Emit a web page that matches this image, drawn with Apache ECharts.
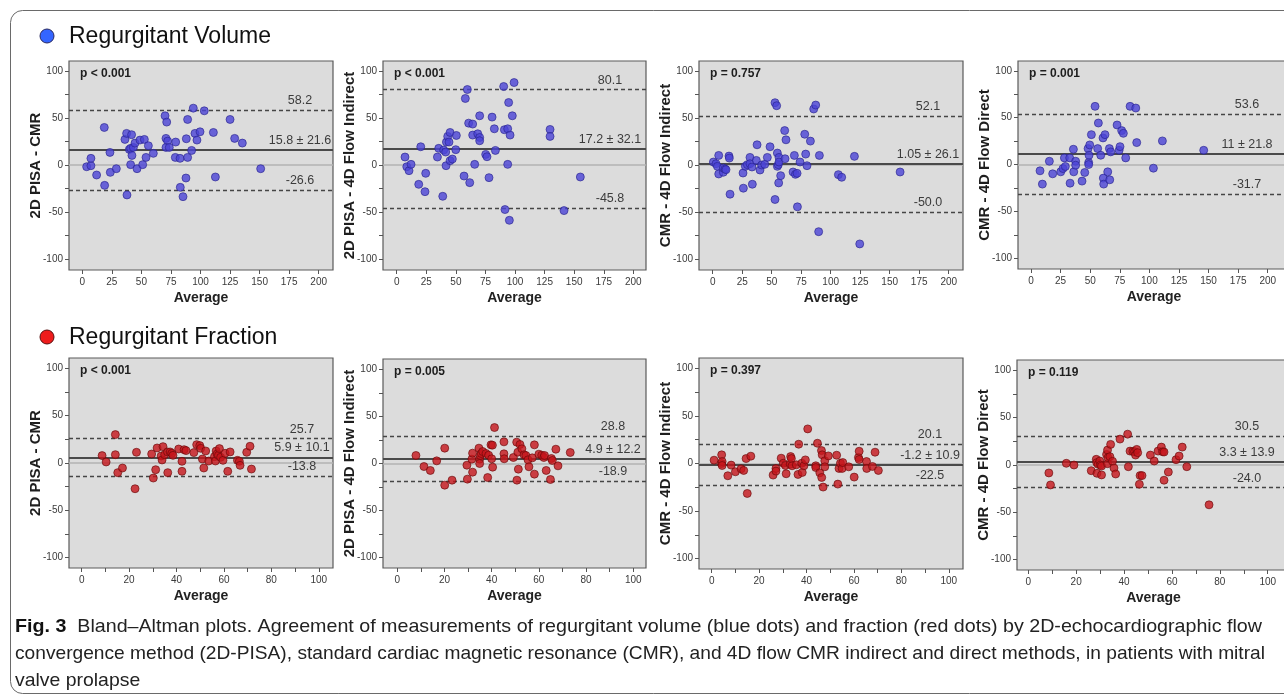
<!DOCTYPE html>
<html><head><meta charset="utf-8">
<script src="https://cdn.jsdelivr.net/npm/echarts@6/dist/echarts.min.js"></script>
<style>html,body{margin:0;padding:0;background:#fff}#c{width:1284px;height:697px}</style>
</head><body><div id="c"></div>
<script>
// ---------- DATA ----------
const volXTicks = [0, 25, 50, 75, 100, 125, 150, 175, 200];
const fracXTicks = [0, 20, 40, 60, 80, 100];
const fracXMinorTicks = [0, 10, 20, 30, 40, 50, 60, 70, 80, 90, 100];
const yLabelTicks = [-100, -50, 0, 50, 100];
const yMinorTicks = [-100, -75, -50, -25, 0, 25, 50, 75, 100];

const sectionTitles = ['Regurgitant Volume', 'Regurgitant Fraction'];
const yAxisNames = ['2D PISA - CMR', '2D PISA - 4D Flow Indirect', 'CMR - 4D Flow Indirect', 'CMR - 4D Flow Direct',
                    '2D PISA - CMR', '2D PISA - 4D Flow Indirect', 'CMR - 4D Flow Indirect', 'CMR - 4D Flow Direct'];
const xAxisName = 'Average';
const pValues = ['p < 0.001', 'p < 0.001', 'p = 0.757', 'p = 0.001', 'p < 0.001', 'p = 0.005', 'p = 0.397', 'p = 0.119'];
const meanBias = [15.8, 17.2, 1.05, 11, 5.9, 4.9, -1.2, 3.3];
const meanLabels = ['15.8 ± 21.6', '17.2 ± 32.1', '1.05 ± 26.1', '11 ± 21.8', '5.9 ± 10.1', '4.9 ± 12.2', '-1.2 ± 10.9', '3.3 ± 13.9'];
const upperLoA = [58.2, 80.1, 52.1, 53.6, 25.7, 28.8, 20.1, 30.5];
const upperLabels = ['58.2', '80.1', '52.1', '53.6', '25.7', '28.8', '20.1', '30.5'];
const lowerLoA = [-26.6, -45.8, -50.0, -31.7, -13.8, -18.9, -22.5, -24.0];
const lowerLabels = ['-26.6', '-45.8', '-50.0', '-31.7', '-13.8', '-18.9', '-22.5', '-24.0'];

const volPisaCmr = [[3.7,-1.8],[7.3,-0.7],[7.3,7.1],[12.1,-10.6],[18.6,39.9],[18.9,-21.6],[23.4,13.4],[23.7,-7.8],[28.8,-3.9],[36.1,27.2],[37.5,33.6],[37.8,-31.8],[39.8,16.6],[40.9,17.7],[41.7,32.2],[40.9,0.4],[42.0,10.2],[43.2,18.7],[44.6,23.3],[46.3,-3.9],[48.8,26.5],[51.1,0.4],[52.5,27.2],[53.9,8.1],[55.9,20.5],[60.1,12.4],[70,52.3],[71.4,45.6],[70.8,28.3],[72.2,25.4],[70.8,18.7],[73.6,18.7],[78.7,8.1],[79,24.4],[82.7,7.1],[82.9,-23.7],[85.2,-33.6],[87.7,-13.8],[88,27.9],[89.1,48.4],[89.1,8.1],[92.5,15.5],[93.9,60.4],[95.3,33.6],[97,26.5],[99.6,35.3],[103.2,57.6],[110.9,34.6],[112.6,-12.7],[125,48.4],[128.9,28.3],[135.4,23.3],[150.9,-3.9]];
const volPisa4dInd = [[7.0,8.5],[8.5,-1.8],[10.4,-6.0],[12.1,0.7],[18.6,-20.5],[20.3,19.4],[23.9,-28.3],[24.5,-8.8],[34.4,8.5],[35.5,17.7],[38.9,-33.2],[39.7,15.9],[41.4,13.8],[41.7,-0.7],[42.0,24.4],[43.1,30.4],[44.2,24.4],[45.1,34.6],[45.1,4.6],[47.0,6.4],[49.9,16.3],[50.4,31.4],[56.9,-11.7],[58.0,70.7],[59.7,80.2],[60.8,44.5],[61.7,-18.7],[64.2,43.5],[64.2,31.8],[65.9,0.7],[68.5,33.2],[70.1,29.3],[70.1,25.8],[70.1,52.3],[75.2,11.3],[76.3,8.8],[78.0,-13.4],[80.6,50.9],[82.5,38.5],[83.4,15.5],[90.4,83.4],[91.5,-47.3],[91.0,37.5],[93.8,38.5],[93.8,0.7],[94.6,66.4],[95.2,-58.7],[95.8,31.8],[97.7,52.3],[99.2,87.6],[129.6,37.8],[129.6,30.4],[141.4,-48.4],[155.2,-12.7]];
const volCmr4dInd = [[0.6,3.2],[2.8,1.4],[4.0,-1.4],[5.1,10.2],[5.1,-9.5],[9.0,-7.7],[9.0,-3.2],[10.5,-4.2],[11.3,-4.9],[13.8,9.5],[14.1,7.4],[14.7,-31.0],[25.7,-8.5],[26.0,-24.6],[27.7,-1.4],[29.4,0.4],[31.6,8.1],[31.6,1.4],[33.3,-2.1],[33.6,-20.4],[37.0,4.9],[37.6,21.5],[40.1,-5.3],[41.5,0],[44.1,0.7],[46.3,8.1],[48.6,19.4],[52.8,-36.6],[52.8,66.2],[54.2,63.0],[54.8,12.7],[54.8,-1.4],[55.6,0.4],[56.2,8.1],[56.2,3.2],[55.9,-19.0],[57.6,-11.3],[61.0,36.6],[61.3,6.7],[62.1,26.8],[68.1,-7.4],[69.2,10.2],[70.1,-9.9],[71.5,-8.8],[71.8,-44.4],[74.0,3.2],[78.0,32.7],[78.8,11.6],[79.9,-0.7],[82.8,25.4],[85.6,59.5],[87.3,63.7],[89.8,-70.8],[90.4,10.2],[106.5,-10.2],[109.3,-13.0],[120.1,9.2],[124.6,-83.8],[158.8,-7.4]];
const volCmr4dDir = [[7.6,-6.7],[9.6,-20.9],[15.5,3.5],[18.3,-9.9],[25.1,-7.8],[27.0,-4.3],[28.2,7.1],[29.0,-2.1],[32.7,7.1],[33.0,-19.9],[35.8,16.3],[36.1,-7.8],[37.7,3.5],[37.7,-0.7],[43.1,-17.7],[45.4,-8.5],[48.2,17.0],[48.7,2.1],[48.7,0],[49.0,9.9],[49.6,20.9],[51.0,31.9],[54.1,62.1],[56.3,17.0],[56.9,44.3],[58.9,9.9],[60.8,28.4],[61.1,-14.5],[61.4,-20.9],[62.5,31.9],[64.8,-7.8],[66.2,17.0],[66.5,-16.3],[67.3,13.5],[72.7,42.2],[74.4,15.2],[75.2,19.1],[76.6,36.2],[78.0,33.3],[80.0,7.1],[83.7,62.1],[88.5,60.3],[89.3,23.4],[103.4,-3.9],[111.0,25.2],[145.9,15.2]];
const fracPisaCmr = [[8.6,7.8],[10.3,1.1],[14.2,30.0],[14.2,8.8],[15.2,-10.2],[17.2,-5.3],[22.5,-27.2],[23.1,11.3],[29.5,9.5],[30.2,-15.9],[31.2,-7.1],[31.8,15.9],[33.5,7.4],[33.9,3.2],[34.3,17.3],[35.0,8.8],[36.2,11.7],[36.3,-10.2],[37.3,11.7],[38.0,10.2],[38.5,8.1],[40.9,14.8],[42.3,1.8],[42.3,-8.8],[43.2,14.1],[44.0,13.1],[47.3,11.0],[48.5,19.4],[49.8,18.4],[50.2,15.5],[50.9,4.2],[51.5,-5.3],[52.3,12.7],[53.6,2.1],[56.0,6.7],[56.4,2.1],[56.7,12.7],[57.1,9.5],[57.7,8.1],[58.1,15.2],[58.6,6.0],[59.6,2.8],[60.5,10.2],[61.6,-8.8],[62.6,11.7],[65.7,2.8],[66.5,1.8],[66.8,-2.5],[69.6,11.3],[71.0,17.7],[71.6,-6.4]];
const fracPisa4dInd = [[7.9,8.5],[11.3,-3.2],[14.0,-7.4],[16.7,2.8],[20.1,16.3],[20.1,-23.0],[23.2,-17.7],[29.5,-1.8],[29.7,-16.6],[31.6,4.6],[31.9,11.0],[31.9,-9.2],[34.6,16.3],[34.9,4.6],[34.9,0],[35.2,8.5],[35.6,10.6],[36.2,12.7],[37.6,10.6],[38.3,-14.9],[38.7,8.8],[39.7,19.8],[40.3,19.5],[40.0,5.0],[40.4,-3.9],[41.2,38.2],[45.2,23.0],[45.2,10.3],[45.3,5.0],[49.2,6.4],[50.6,22.7],[50.7,-17.7],[51.1,12.0],[51.3,-6.0],[52.0,20.2],[52.8,15.6],[53.7,9.2],[54.5,8.5],[55.4,3.9],[55.8,-3.5],[57.2,6.0],[58.1,19.8],[58.1,-11.3],[60.0,9.9],[61.2,8.8],[62.1,6.4],[62.4,8.5],[63.1,-7.4],[64.9,-17.0],[65.3,5.3],[65.7,3.2],[67.2,15.2],[68.1,-2.5],[73.3,11.7]];
const fracCmr4dInd = [[1.0,3.5],[4.1,0],[4.2,9.1],[4.4,2.1],[4.4,-2.1],[6.8,-12.9],[8.2,-1.7],[10.0,-8.7],[12.4,-5.6],[13.5,-7.3],[14.5,5.2],[15.0,-31.5],[16.5,7.7],[25.9,-12.2],[27.1,-5.2],[27.1,-8.0],[29.3,5.6],[30.2,0.3],[31.1,-2.1],[31.4,-10.8],[33.1,-0.7],[33.3,7.3],[33.6,5.2],[33.9,-2.4],[35.7,-1.4],[36.4,-11.5],[36.7,20.3],[38.0,0.3],[38.2,-9.4],[38.9,-2.4],[39.5,3.8],[40.5,36.4],[43.9,-2.4],[43.9,-4.2],[44.6,21.3],[45.6,-9.8],[46.3,13.6],[46.4,-14.7],[46.6,9.1],[47.0,-24.8],[47.7,2.8],[47.7,-3.5],[49.2,8.0],[52.7,8.7],[53.2,-21.7],[53.7,-5.2],[54.3,0.3],[55.0,-5.2],[55.3,1.0],[57.8,-3.5],[60.1,-14.3],[61.9,6.3],[62.2,12.9],[62.2,4.2],[65.3,2.1],[65.4,-5.2],[67.8,-3.1],[68.9,11.9],[70.3,-7.3]];
const fracCmr4dDir = [[8.6,-8.4],[9.3,-21.1],[15.9,1.8],[19.1,0],[26.3,-6.0],[28.4,6.0],[28.6,2.5],[28.7,-8.8],[29.2,0.7],[29.9,4.2],[30.2,0],[30.6,-10.5],[30.6,-1.1],[32.7,11.2],[33.1,15.8],[33.1,1.4],[33.3,7.7],[34.1,8.8],[34.4,21.8],[35.2,3.9],[35.8,-3.2],[36.5,-9.5],[38.3,27.4],[41.5,32.6],[41.8,-1.8],[42.5,14.7],[43.7,14.4],[44.4,14.0],[44.8,10.5],[45.3,16.5],[45.7,13.0],[46.4,-20.4],[46.7,-11.2],[47.5,-11.2],[51.0,10.5],[52.6,4.2],[54.2,14.7],[55.6,18.9],[56.1,14.0],[56.7,13.7],[56.7,-16.1],[58.5,-7.4],[61.7,5.6],[63.0,9.5],[64.3,18.9],[66.2,-1.8],[75.5,-42.1]];

const panelData = [volPisaCmr, volPisa4dInd, volCmr4dInd, volCmr4dDir, fracPisaCmr, fracPisa4dInd, fracCmr4dInd, fracCmr4dDir];

const captionLead = 'Fig. 3';
const caption1 = 'Bland–Altman plots. Agreement of measurements of regurgitant volume (blue dots) and fraction (red dots) by 2D-echocardiographic flow';
const caption2 = 'convergence method (2D-PISA), standard cardiac magnetic resonance (CMR), and 4D flow CMR indirect and direct methods, in patients with mitral';
const caption3 = 'valve prolapse';

// ---------- LAYOUT (pixels / axis extents) ----------
const layout = [
  {left: 69,   top: 61,  width: 264, height: 209, xMin: -11.25, xMax: 212.1, yMin: -111.5, yMax: 110.5, lblDist: 33},
  {left: 383,  top: 61,  width: 263, height: 209, xMin: -11.6,  xMax: 210.7, yMin: -111.5, yMax: 110.5, lblDist: 36},
  {left: 699,  top: 61,  width: 264, height: 209, xMin: -11.6,  xMax: 212.1, yMin: -111.5, yMax: 110.5, lblDist: 35},
  {left: 1018, top: 61,  width: 272, height: 208, xMin: -11.0,  xMax: 218.8, yMin: -111.5, yMax: 110.5, lblDist: 43},
  {left: 69,   top: 358, width: 264, height: 210, xMin: -5.36,  xMax: 106.0, yMin: -111,   yMax: 111,   lblDist: 31},
  {left: 383,  top: 359, width: 263, height: 209, xMin: -6.06,  xMax: 105.4, yMin: -111,   yMax: 111,   lblDist: 33},
  {left: 699,  top: 358, width: 264, height: 211, xMin: -5.36,  xMax: 106.0, yMin: -111,   yMax: 111,   lblDist: 33},
  {left: 1017, top: 360, width: 273, height: 210, xMin: -4.7,   xMax: 109.3, yMin: -111,   yMax: 111,   lblDist: 43}
];
const FONT = '"Liberation Sans", Arial, Helvetica, sans-serif';
const dotStyles = [
  {color: '#4b43d6', borderColor: '#28228c', borderWidth: 0.8},
  {color: '#c5151c', borderColor: '#660a0a', borderWidth: 0.8}
];

const grids = [], xAxes = [], yAxes = [], series = [], graphics = [];
layout.forEach((L, i) => {
  const isVol = i < 4;
  grids.push({left: L.left, top: L.top, width: L.width, height: L.height, show: true,
    backgroundColor: '#dcdcdc', borderColor: '#5a5a5a', borderWidth: 1.2, containLabel: false, outerBoundsMode: 'none'});
  xAxes.push({type: 'value', gridIndex: i, min: L.xMin, max: L.xMax,
    axisLine: {show: false, onZero: false}, splitLine: {show: false},
    axisTick: {show: true, length: 4, lineStyle: {color: '#555', width: 1}, customValues: isVol ? volXTicks : fracXMinorTicks},
    axisLabel: {show: true, customValues: isVol ? volXTicks : fracXTicks, color: '#3a3a3a', fontSize: 10, fontFamily: FONT, margin: 7},
    name: xAxisName, nameLocation: 'middle', nameGap: 21, nameMoveOverlap: false,
    nameTextStyle: {fontSize: 14, fontWeight: 'bold', color: '#222', fontFamily: FONT}});
  yAxes.push({type: 'value', gridIndex: i, min: L.yMin, max: L.yMax,
    axisLine: {show: false, onZero: false}, splitLine: {show: false},
    axisTick: {show: true, length: 4, lineStyle: {color: '#555', width: 1}, customValues: yMinorTicks},
    axisLabel: {show: true, customValues: yLabelTicks, color: '#3a3a3a', fontSize: 10, fontFamily: FONT, margin: 6},
    name: yAxisNames[i], nameLocation: 'middle', nameGap: 26, nameRotate: 90, nameMoveOverlap: false,
    nameTextStyle: {fontSize: 15, fontWeight: 'bold', color: '#1e1e1e', fontFamily: FONT}});
  const lblStyle = {show: true, position: 'insideEndTop', align: 'center', distance: [L.lblDist, 3],
    fontSize: 12.5, color: '#3c3c3c', fontFamily: FONT};
  series.push({type: 'scatter', xAxisIndex: i, yAxisIndex: i, data: panelData[i], symbolSize: 8,
    itemStyle: dotStyles[isVol ? 0 : 1], silent: true, animation: false, z: 5,
    markLine: {silent: true, symbol: 'none', animation: false, z: 3,
      data: [
        {yAxis: 0, lineStyle: {color: '#b3b3b3', width: 1.5, type: 'solid'}, label: {show: false}},
        {yAxis: upperLoA[i], lineStyle: {color: '#454545', width: 1.4, type: [4, 3]}, label: Object.assign({formatter: upperLabels[i]}, lblStyle)},
        {yAxis: meanBias[i], lineStyle: {color: '#4a4a4a', width: 2, type: 'solid'}, label: Object.assign({formatter: meanLabels[i]}, lblStyle)},
        {yAxis: lowerLoA[i], lineStyle: {color: '#454545', width: 1.4, type: [4, 3]}, label: Object.assign({formatter: lowerLabels[i]}, lblStyle)}
      ]}});
  graphics.push({type: 'text', x: L.left + 11, y: L.top + 13, silent: true,
    style: {text: pValues[i], fontSize: 12, fontWeight: 'bold', fill: '#1e1e1e', fontFamily: FONT, verticalAlign: 'middle'}});
});

// frame
graphics.push({type: 'rect', silent: true, shape: {x: 10.5, y: 10.5, width: 1290, height: 683, r: 12},
  style: {fill: 'none', stroke: '#6a6a6a', lineWidth: 1}, z: -1});
// section headings
const headY = [36, 337];
const headColors = [['#3465ff', '#2a2a60'], ['#ee1c1c', '#5a1010']];
sectionTitles.forEach((t, k) => {
  graphics.push({type: 'circle', silent: true, shape: {cx: 47, cy: headY[k], r: 7},
    style: {fill: headColors[k][0], stroke: headColors[k][1], lineWidth: 1}});
  graphics.push({type: 'text', silent: true, x: 69, y: headY[k] + 1,
    style: {text: t, fontSize: 23, fill: '#111', fontFamily: FONT, verticalAlign: 'middle'}});
});
// caption: condensed by horizontal scale to the measured line widths
const cfs = 19;
const cv = document.createElement('canvas').getContext('2d');
cv.font = 'bold ' + cfs + 'px ' + FONT;
const leadW = cv.measureText(captionLead + '  ').width;
cv.font = cfs + 'px ' + FONT;
const scale1 = 1247 / (leadW + cv.measureText(caption1).width);
const scale2 = 1250 / cv.measureText(caption2).width;
const scale3 = (scale1 + scale2) / 2;
const capY = [627, 654, 681];
graphics.push({type: 'text', silent: true, x: 15, y: capY[0], scaleX: scale1,
  style: {text: '{b|' + captionLead + '}  ' + caption1, fontSize: cfs, fill: '#222', fontFamily: FONT, verticalAlign: 'middle',
    rich: {b: {fontWeight: 'bold', fontSize: cfs, fill: '#111', fontFamily: FONT}}}});
graphics.push({type: 'text', silent: true, x: 15, y: capY[1], scaleX: scale2,
  style: {text: caption2, fontSize: cfs, fill: '#222', fontFamily: FONT, verticalAlign: 'middle'}});
graphics.push({type: 'text', silent: true, x: 15, y: capY[2], scaleX: scale3,
  style: {text: caption3, fontSize: cfs, fill: '#222', fontFamily: FONT, verticalAlign: 'middle'}});

const chart = echarts.init(document.getElementById('c'), null, {renderer: 'canvas'});
chart.setOption({
  animation: false,
  backgroundColor: '#ffffff',
  grid: grids, xAxis: xAxes, yAxis: yAxes, series: series,
  graphic: {elements: graphics}
});
</script></body></html>
